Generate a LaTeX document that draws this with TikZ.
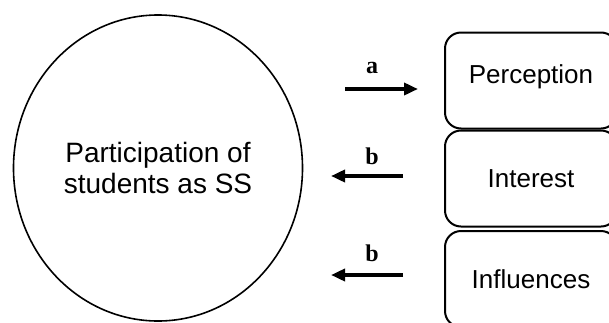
\documentclass[tikz,border=0pt]{standalone}
\usepackage{fontspec}
\setmainfont{Liberation Sans}
\newfontfamily\serifbold{Liberation Serif}
\usetikzlibrary{shapes.geometric, arrows.meta}

\begin{document}
\begin{tikzpicture}[x=0.5pt, y=-0.5pt,
		factor/.style={draw, line width=1pt, rounded corners=8pt, minimum width=86pt, minimum height=48pt, inner sep=0pt, font=\fontsize{13}{15}\selectfont},
		relarrow/.style={line width=2pt, -{Triangle[length=7pt, width=6pt]}},
		rellabel/.style={font=\serifbold\bfseries\fontsize{12}{14}\selectfont, inner sep=0pt}]
				% Рамка рисунка
				\useasboundingbox (0,0) rectangle (609,322);
				\clip (0,0) rectangle (609,322);
				
				% Эллипс с главным понятием
				\node[draw, ellipse, line width=0.8pt, minimum width=144.5pt, minimum height=153pt, inner sep=0pt, align=center, font=\fontsize{14}{15.5}\selectfont] (part) at (158,168) {Participation of\\students as SS};
				
				% Прямоугольники с факторами
				\node[factor] (perc) at (531,80.5) {\raisebox{6pt}{Perception}};
				\node[factor] (intr) at (531,178.5) {Interest};
				\node[factor] (infl) at (531,279) {Influences};
				
				% Концы стрелок
				\coordinate (a1) at (345,89);
				\coordinate (a2) at (418,89);
				\coordinate (b1) at (403,176);
				\coordinate (b2) at (331,176);
				\coordinate (c1) at (403,275);
				\coordinate (c2) at (331,275);
				
				% Стрелки
				\draw[relarrow] (a1) -- (a2);
				\draw[relarrow] (b1) -- (b2);
				\draw[relarrow] (c1) -- (c2);
				
				% Подписи стрелок
				\node[rellabel] (la) at (372,68) {a};
				\node[rellabel] (lb) at (372,156) {b};
				\node[rellabel] (lc) at (372,253) {b};
			\end{tikzpicture}
\end{document}
